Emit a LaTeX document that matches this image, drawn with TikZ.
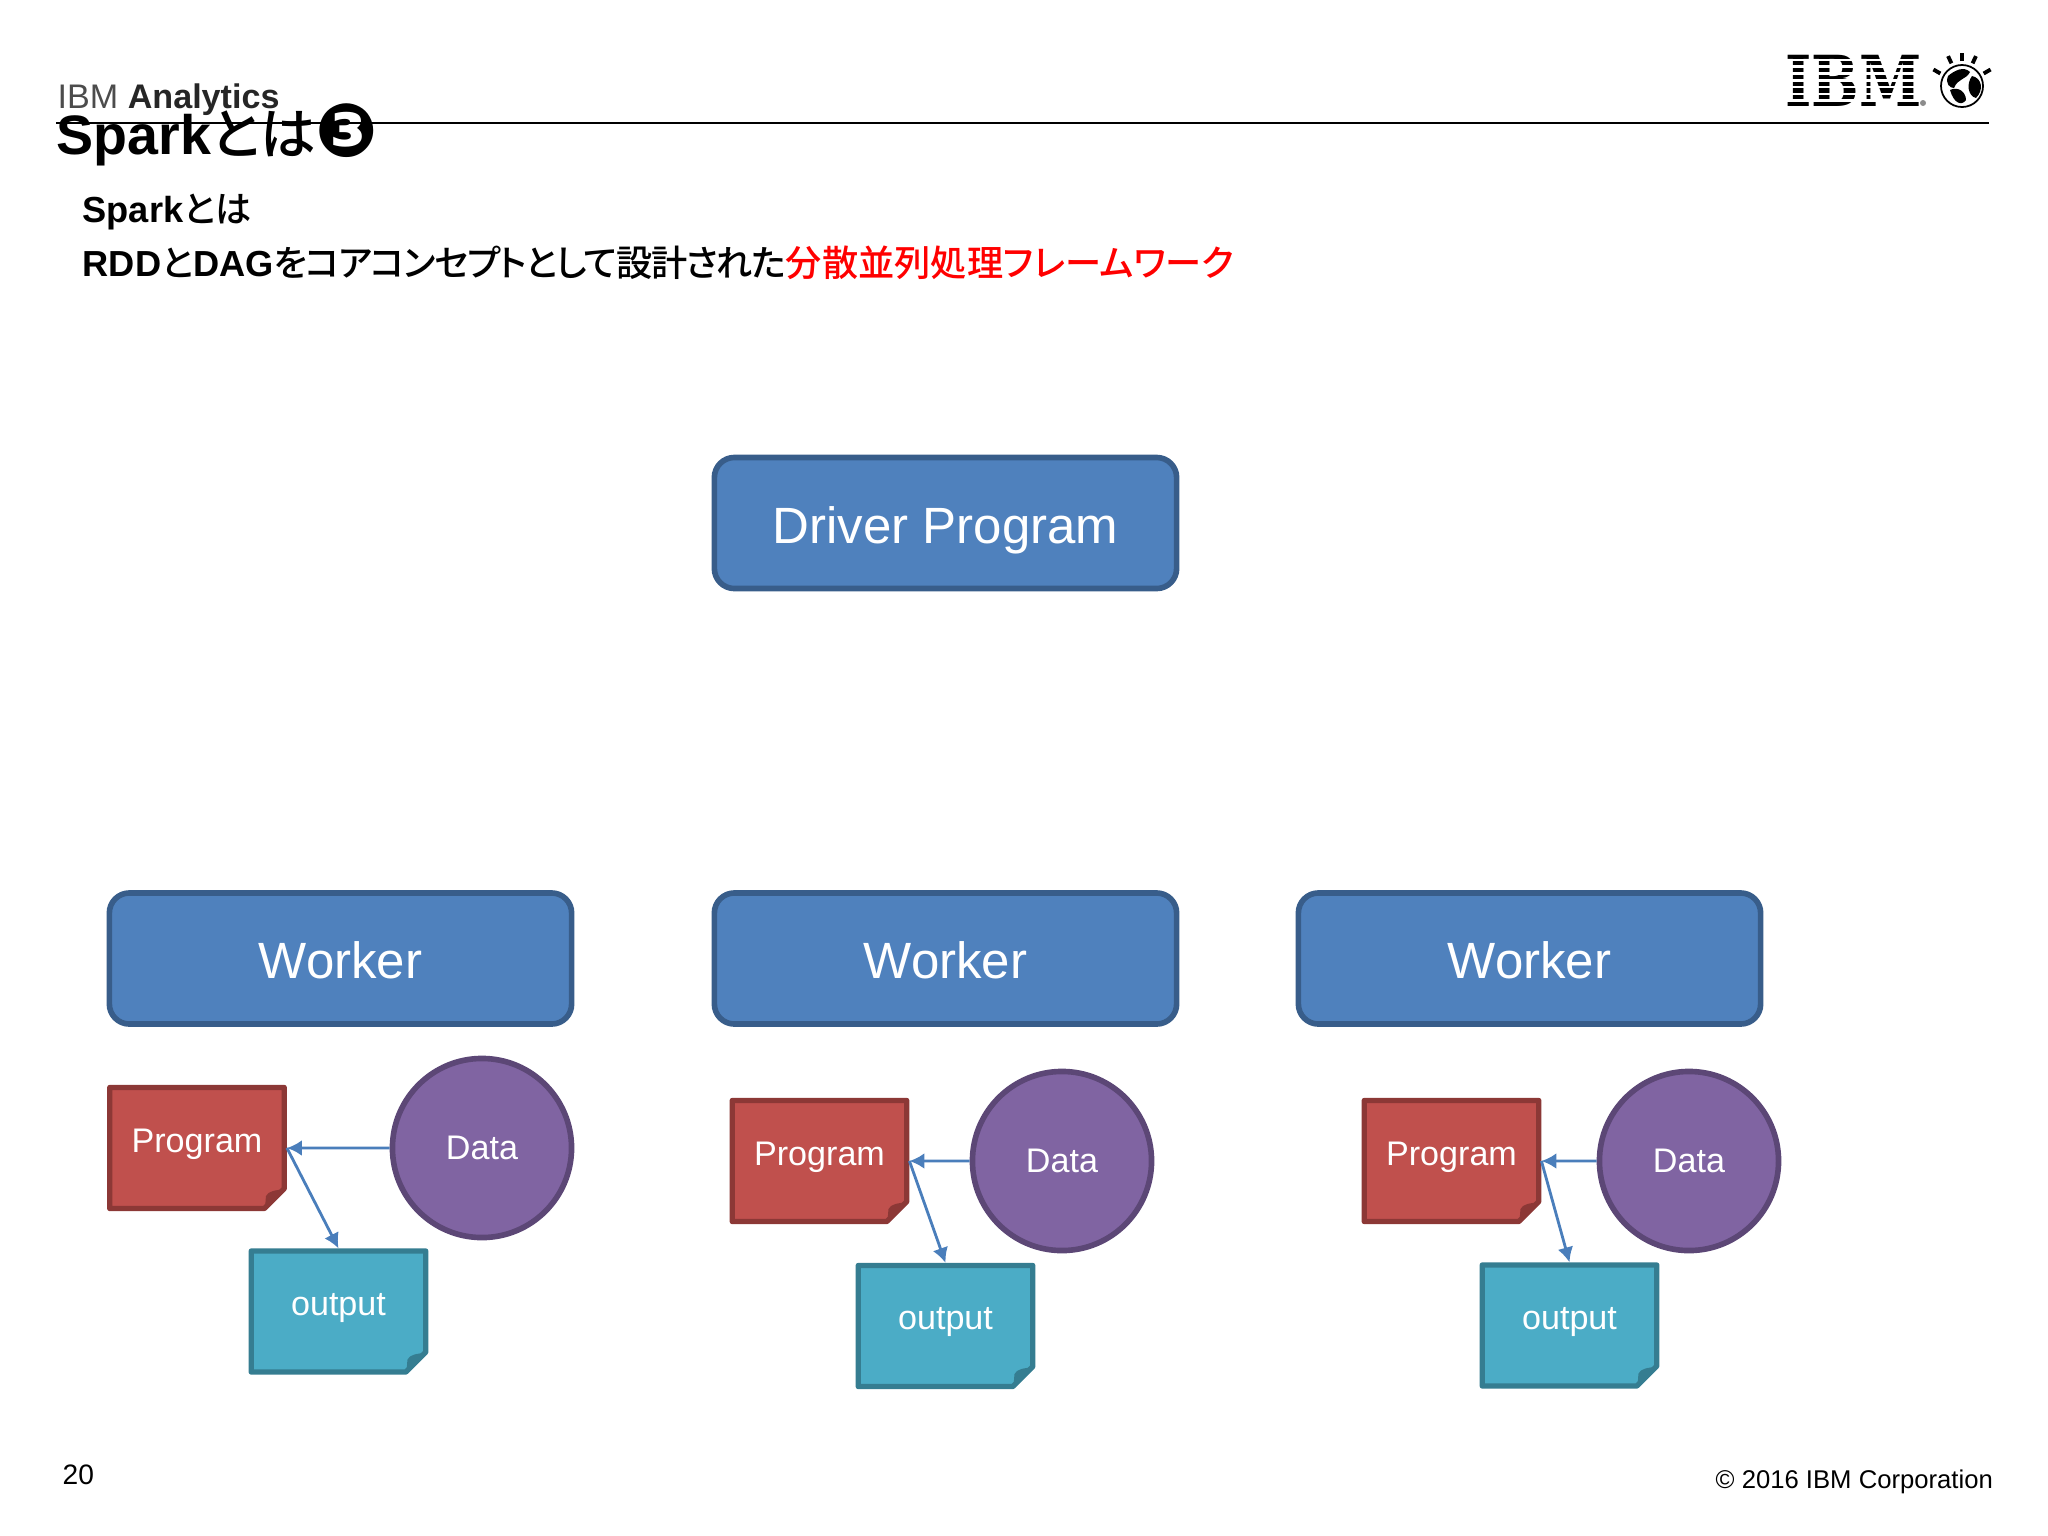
\documentclass[tikz,border=0pt]{standalone}
\usepackage{fontspec}
\setmainfont{Liberation Sans}
\newfontfamily\jpfont{Noto Sans CJK JP}[BoldFont={Noto Sans CJK JP Medium},RawFeature=+palt]
\newfontfamily\jpnarrow{Noto Sans CJK JP}[BoldFont={Noto Sans CJK JP Medium},RawFeature=+palt,LetterSpace=-4]
\newfontfamily\dingfont{DejaVu Sans}
\newfontfamily\logofont{DejaVu Serif}
\usetikzlibrary{calc,arrows.meta,shapes.misc}
\definecolor{blockfill}{HTML}{4F81BD}
\definecolor{blockedge}{HTML}{385D8A}
\definecolor{progfill}{HTML}{C0504D}
\definecolor{progedge}{HTML}{8C3836}
\definecolor{datafill}{HTML}{8064A2}
\definecolor{dataedge}{HTML}{5C4776}
\definecolor{outfill}{HTML}{4BACC6}
\definecolor{outedge}{HTML}{357D91}
\definecolor{arrowblue}{HTML}{4A7EBB}
\tikzset{
    block/.style = {draw=blockedge, fill=blockfill, text=white, rectangle, rounded corners=.2cm,
        line width=1.6pt,
        minimum height=1.31cm,
        minimum width=4.62cm,
        text height=.40cm, text depth=0cm,
        font=\fontsize{14.5}{17}\selectfont},
    notepage/.style = {chamfered rectangle, chamfered rectangle corners=south east,
        chamfered rectangle xsep=.1cm, chamfered rectangle ysep=.1cm,
        line width=1.5pt, line join=round, text=white,
        minimum height=1.21cm,
        minimum width=1.745cm,
        font=\fontsize{9.7}{12}\selectfont},
    prog/.style = {notepage, draw=progedge, fill=progfill},
    outp/.style = {notepage, draw=outedge, fill=outfill},
    data/.style = {draw=dataedge, fill=datafill, text=white, circle, line width=1.6pt,
        minimum size=1.79cm,
        font=\fontsize{9.7}{12}\selectfont},
    arrow/.style = {draw=arrowblue, -{Latex[length=.15cm,width=.16cm]}, line width=.8pt},
    plain/.style = {anchor=base west, inner sep=0pt}
}
\newcommand{\notefold}[2]{
    \fill[#2] ($(#1.south -| #1.east)+(-2,-22)$) -- ($(#1.south -| #1.east)+(-22,-2)$)
        -- ($(#1.south -| #1.east)+(-21,-15)$)
        .. controls ($(#1.south -| #1.east)+(-19,-20)$) and ($(#1.south -| #1.east)+(-12,-21)$) .. cycle;
}
\newcommand{\lift}[1]{\raisebox{.15cm}{#1}}
\begin{document}
\begin{tikzpicture}[x=.01cm,y=-.01cm]
    \useasboundingbox (0,0) rectangle (2048,1536);
    % header
    \node[plain, font=\fontsize{9.7}{12}\selectfont] (brand) at (57,108) {\textcolor{black!70}{IBM} \textbf{\textcolor{black!85}{Analytics}}};
    \coordinate (rulea) at (56,123);
    \coordinate (ruleb) at (1989,123);
    \draw[line width=.6pt] (rulea) -- (ruleb);
    \node[plain, font=\fontsize{15.8}{18}\selectfont\bfseries] (title) at (56,154) {Spark{\jpfont とは}\raisebox{-.02cm}{\dingfont\fontsize{21}{22}\selectfont ❸}};
    \node[plain, font=\fontsize{10.3}{12}\selectfont\bfseries] (subone) at (82,222) {Spark{\jpfont とは}};
    \node[plain, font=\fontsize{10.3}{12}\selectfont\bfseries] (subtwo) at (82,276) {RDD{\jpnarrow と}DAG{\jpnarrow をコアコンセプトとして設計された}{\jpfont\textcolor{red}{分散並列処理フレームワーク}}};
    % logo
    \node[plain, font=\logofont\bfseries\fontsize{20}{24}\selectfont, xscale=.8] (logo) at (1785,106) {IBM};
    \foreach \y in {58.5,65.3,72.1,78.9,85.7,92.5,99.3} {
        \fill[white] (1780,\y) rectangle (1925,\y+2.6);
    }
    \fill[black!45] (1923,103) circle (3);
    \node[circle, draw, line width=.5pt, minimum size=.42cm, inner sep=0pt] (globe) at (1962,86) {};
    \fill (1948,76) .. controls (1955,70) and (1964,66) .. (1970,72) .. controls (1966,80) and (1958,78) .. (1954,88) .. controls (1950,88) and (1945,84) .. cycle;
    \fill (1950,90) .. controls (1958,86) and (1966,92) .. (1966,100) .. controls (1962,106) and (1954,104) .. cycle;
    \fill (1972,76) .. controls (1982,78) and (1984,90) .. (1976,98) .. controls (1968,96) and (1966,84) .. cycle;
    \foreach \a in {30,65,90,115,150} {
        \draw[line width=1.1pt] (1962,86) ++(-\a:25) -- ++(-\a:8);
    }
    % driver
    \node[block] (driver) at (945.5,523) {Driver Program};
    % workers
    \node[block] (workera) at (340.5,958.5) {Worker};
    \node[block] (workerb) at (945.5,958.5) {Worker};
    \node[block] (workerc) at (1529.5,958.5) {Worker};
    % first group
    \node[prog] (proga) at (197,1148) {\lift{Program}};
    \node[data] (dataa) at (482,1148) {Data};
    \node[outp] (outa) at (338.5,1311.5) {\lift{output}};
    \notefold{proga}{progedge}
    \notefold{outa}{outedge}
    \draw[arrow] (dataa) -- (proga);
    \draw[arrow] (proga.east) -- (outa.north);
    % second group
    \node[prog] (progb) at (819.5,1161) {\lift{Program}};
    \node[data] (datab) at (1062,1161) {Data};
    \node[outp] (outb) at (945.5,1326) {\lift{output}};
    \notefold{progb}{progedge}
    \notefold{outb}{outedge}
    \draw[arrow] (datab) -- (progb);
    \draw[arrow] (progb.east) -- (outb.north);
    % third group
    \node[prog] (progc) at (1451.5,1161) {\lift{Program}};
    \node[data] (datac) at (1689,1161) {Data};
    \node[outp] (outc) at (1569.5,1325.5) {\lift{output}};
    \notefold{progc}{progedge}
    \notefold{outc}{outedge}
    \draw[arrow] (datac) -- (progc);
    \draw[arrow] (progc.east) -- (outc.north);
    % footer
    \node[plain, font=\fontsize{8}{10}\selectfont] (pagenum) at (62,1484) {20};
    \node[plain, font=\fontsize{7.3}{10}\selectfont] (copyr) at (1715,1488) {© 2016 IBM Corporation};
\end{tikzpicture}
\end{document}
